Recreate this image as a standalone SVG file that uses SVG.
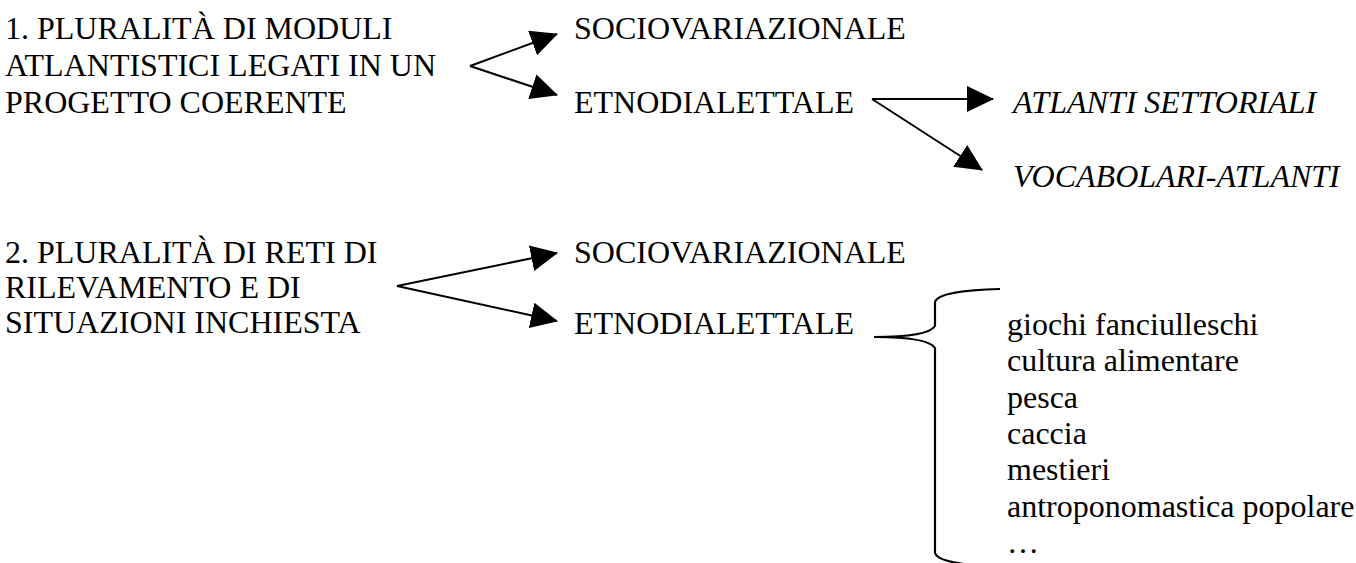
<svg xmlns="http://www.w3.org/2000/svg" width="1356" height="563" viewBox="0 0 1356 563">
<style>
text{font-family:"Liberation Serif","Times New Roman",serif;font-size:32px;fill:#000}
.it{font-style:italic}
.ln{stroke:#000;stroke-width:2;fill:none}
.br{stroke:#000;stroke-width:2.2;fill:none}
</style>
<defs>
<marker id="ah" markerUnits="userSpaceOnUse" markerWidth="27" markerHeight="27" viewBox="0 0 27 27" refX="26" refY="13" orient="auto">
<path d="M0,0 L27,13 L0,26 z" fill="#000"/>
</marker>
</defs>
<rect width="1356" height="563" fill="#fff"/>
<g id="node-1">
<text x="5" y="39">1. PLURALITÀ DI MODULI</text>
<text x="5" y="76">ATLANTISTICI LEGATI IN UN</text>
<text x="5" y="113">PROGETTO COERENTE</text>
</g>
<g id="node-socio-1"><text x="574" y="39">SOCIOVARIAZIONALE</text></g>
<g id="node-etno-1"><text x="574" y="113">ETNODIALETTALE</text></g>
<g id="node-atlanti"><text class="it" x="1013" y="113">ATLANTI SETTORIALI</text></g>
<g id="node-vocabolari"><text class="it" x="1013" y="187">VOCABOLARI-ATLANTI</text></g>
<g id="node-2">
<text x="5" y="263">2. PLURALITÀ DI RETI DI</text>
<text x="5" y="298">RILEVAMENTO E DI</text>
<text x="5" y="333">SITUAZIONI INCHIESTA</text>
</g>
<g id="node-socio-2"><text x="574" y="263">SOCIOVARIAZIONALE</text></g>
<g id="node-etno-2"><text x="574" y="334">ETNODIALETTALE</text></g>
<g id="node-list">
<text x="1007" y="335">giochi fanciulleschi</text>
<text x="1007" y="371.3">cultura alimentare</text>
<text x="1007" y="407.6">pesca</text>
<text x="1007" y="443.9">caccia</text>
<text x="1007" y="480.2">mestieri</text>
<text x="1007" y="516.5">antroponomastica popolare</text>
<text x="1007" y="552.8">…</text>
</g>
<g id="connectors">
<line class="ln" x1="470" y1="66" x2="557" y2="34" marker-end="url(#ah)"/>
<line class="ln" x1="470" y1="66" x2="557" y2="95" marker-end="url(#ah)"/>
<line class="ln" x1="872" y1="99" x2="993" y2="99" marker-end="url(#ah)"/>
<line class="ln" x1="872" y1="99" x2="982" y2="170" marker-end="url(#ah)"/>
<line class="ln" x1="397" y1="286" x2="557" y2="253" marker-end="url(#ah)"/>
<line class="ln" x1="397" y1="286" x2="557" y2="321" marker-end="url(#ah)"/>
<path class="br" d="M874,337 C905,337 930,334 935,326 L935,302 C938,293 965,290 1000,289"/>
<path class="br" d="M874,337 C905,337 930,340 935,348 L935,553 C937,559 945,562 990,568"/>
</g>
</svg>
